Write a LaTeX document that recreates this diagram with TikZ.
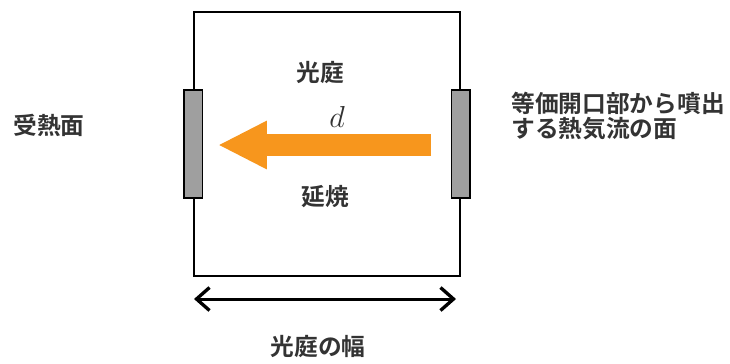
\documentclass[tikz,border=0pt]{standalone}
\usepackage{fontspec}
\newfontfamily\jpfont{Noto Sans CJK JP}[BoldFont={* Bold}]
\usepackage{tikz}
\usetikzlibrary{arrows.meta,positioning}
\definecolor{flame}{RGB}{247,150,29}

\begin{document}
\begin{tikzpicture}[x=0.02cm, y=-0.02cm, semithick, font=\jpfont\bfseries\fontsize{13.5}{14}\selectfont,
		panel/.style={draw, thick, fill=gray!75, minimum width=0.37cm, minimum height=2.16cm, inner sep=0pt},
		lbl/.style={text=black!80, inner sep=1pt}]
				\useasboundingbox (0,0) rectangle (730,363);
				\node[draw, thick, minimum width=5.32cm, minimum height=5.28cm, inner sep=0pt] (room) at (327,144) {};
		  		\node[panel] (recv) at (room.west) {};
		  		\node[panel] (src)  at (room.east) {};
		  		\coordinate (tail) at (431,145);
		  		\coordinate (tip)  at (218,145);
		  		\coordinate (wl)   at (194,299);
		  		\coordinate (wr)   at (456,299);

		  		\node[lbl] (court) at (320,73)  {光庭};
		  		\node[lbl] (dist)  at (337,117) {\normalfont\fontsize{17}{17}\selectfont$d$};
		  		\node[lbl] (fire)  at (325,197) {延焼};
		  		\node[lbl] (rlabel) at (49,125) {受熱面};
		  		\node[lbl, align=left, anchor=west] (slabel) at (509,116) {等価開口部から噴出\\する熱気流の面};
		  		\node[lbl] (wlabel) at (318,347) {光庭の幅};

		  		\draw[flame, line width=0.44cm, -{Triangle[width=0.9cm, length=0.98cm]}] (tail) -- (tip);
		  		\draw[line width=1.7pt, {Straight Barb[length=0.26cm, width=0.46cm, line width=1.9pt]}-{Straight Barb[length=0.26cm, width=0.46cm, line width=1.9pt]}] (wl) -- (wr);

			\end{tikzpicture}
\end{document}
